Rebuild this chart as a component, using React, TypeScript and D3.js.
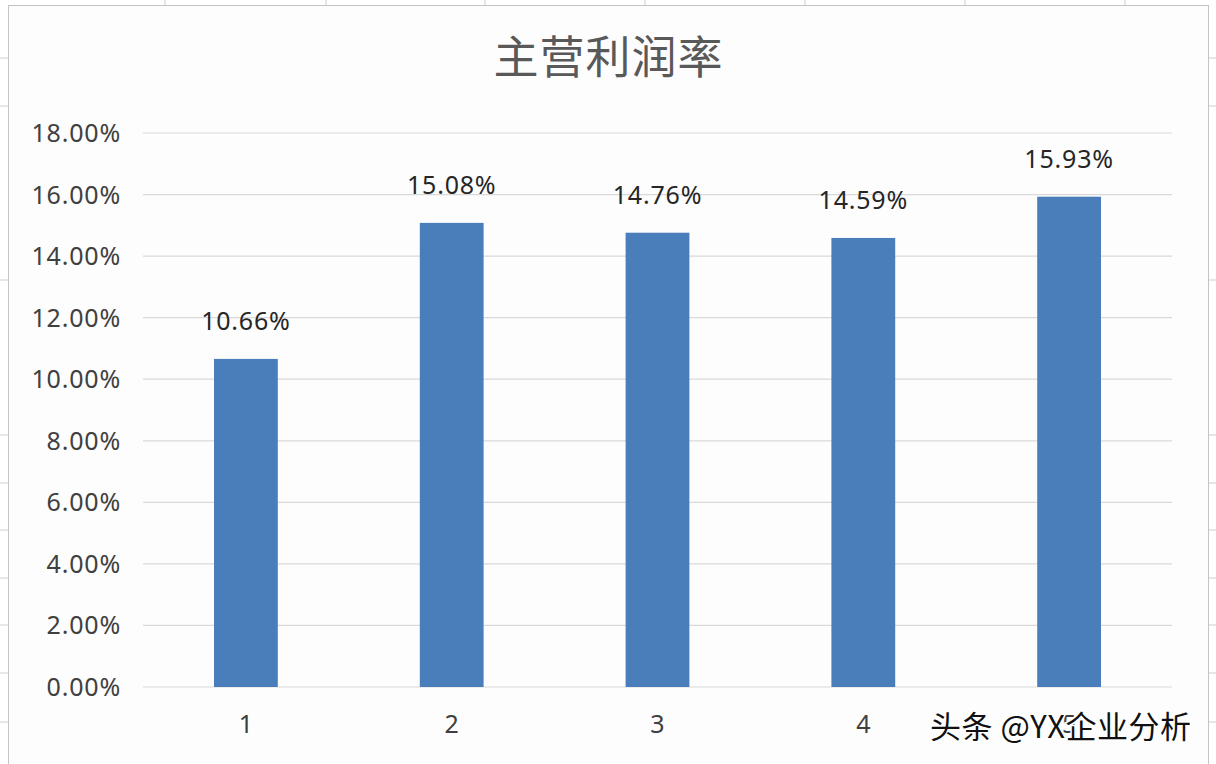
import * as React from 'react';
import * as d3 from 'd3';

// chart data
const categories = ['1', '2', '3', '4', '5'];
const margins = [0.1066, 0.1508, 0.1476, 0.1459, 0.1593];
const yTicks = [0, 0.02, 0.04, 0.06, 0.08, 0.1, 0.12, 0.14, 0.16, 0.18];
const title = '主营利润率';
const watermark = '头条 @YX企业分析';

// spreadsheet cell lines peeking out round the chart
const cellCols = [165, 326, 485, 645, 805, 965, 1125];
const cellRows = [58, 106, 280, 435, 483, 530, 578, 625, 673, 722];

const width = 1216;
const height = 764;
const plot = { left: 143, right: 1172, top: 133, bottom: 687 };

const pct = d3.format('.2%');

const App = () => {
  const x = d3.scaleBand()
    .domain(categories)
    .range([plot.left, plot.right])
    .paddingInner(0.69)
    .paddingOuter(0.345);
  const y = d3.scaleLinear()
    .domain([0, 0.18])
    .range([plot.bottom, plot.top]);

  const numFont = '"Noto Sans", "DejaVu Sans", sans-serif';
  const cjkFont = '"Noto Sans CJK SC", sans-serif';

  return (
    <svg
      width={width}
      height={height}
      style={{ position: 'absolute', left: 0, top: 0, background: '#fff' }}
    >
      {/* cell grid outside the chart box */}
      {cellCols.map((cx) => (
        <line key={`c${cx}`} x1={cx} x2={cx} y1={0} y2={5} stroke="#cfcfcf" />
      ))}
      {cellRows.map((ry) => (
        <g key={`r${ry}`}>
          <line x1={0} x2={8} y1={ry} y2={ry} stroke="#cfcfcf" />
          <line x1={1208} x2={width} y1={ry} y2={ry} stroke="#cfcfcf" />
        </g>
      ))}

      {/* chart area */}
      <rect x={8.5} y={5.5} width={1200} height={height} fill="#fdfdfd" stroke="#c4c4c4" />

      <text
        x={(plot.left + plot.right) / 2 - 49}
        y={74}
        textAnchor="middle"
        fontFamily={cjkFont}
        fontSize={45}
        letterSpacing={1}
        fill="#595959"
      >
        {title}
      </text>

      {/* gridlines + y labels */}
      {yTicks.map((t) => (
        <g key={t}>
          <line x1={plot.left} x2={plot.right} y1={y(t)} y2={y(t)} stroke="#d9d9d9" strokeWidth={1.2} />
          <text
            x={121}
            y={y(t)}
            dy={9}
            textAnchor="end"
            fontFamily={numFont}
            fontSize={25}
            letterSpacing={0.8}
            fill="#404040"
          >
            {pct(t)}
          </text>
        </g>
      ))}

      {/* bars */}
      {margins.map((v, i) => (
        <rect
          key={categories[i]}
          x={x(categories[i])}
          y={y(v)}
          width={x.bandwidth()}
          height={y(0) - y(v)}
          fill="#4a7ebb"
        />
      ))}

      {/* value labels */}
      {margins.map((v, i) => (
        <text
          key={`l${i}`}
          x={(x(categories[i]) || 0) + x.bandwidth() / 2}
          y={y(v) - 29}
          textAnchor="middle"
          fontFamily={numFont}
          fontSize={25}
          letterSpacing={0.8}
          fill="#262626"
        >
          {pct(v)}
        </text>
      ))}

      {/* category labels */}
      {categories.map((c) => (
        <text
          key={`x${c}`}
          x={(x(c) || 0) + x.bandwidth() / 2}
          y={733}
          textAnchor="middle"
          fontFamily={numFont}
          fontSize={25}
          fill="#404040"
        >
          {c}
        </text>
      ))}

      <text
        x={930}
        y={738}
        fontFamily={cjkFont}
        fontSize={31}
        letterSpacing={0.5}
        fill="#111"
        stroke="#fff"
        strokeWidth={3}
        paintOrder="stroke"
      >
        {watermark}
      </text>
    </svg>
  );
};

export default App;
